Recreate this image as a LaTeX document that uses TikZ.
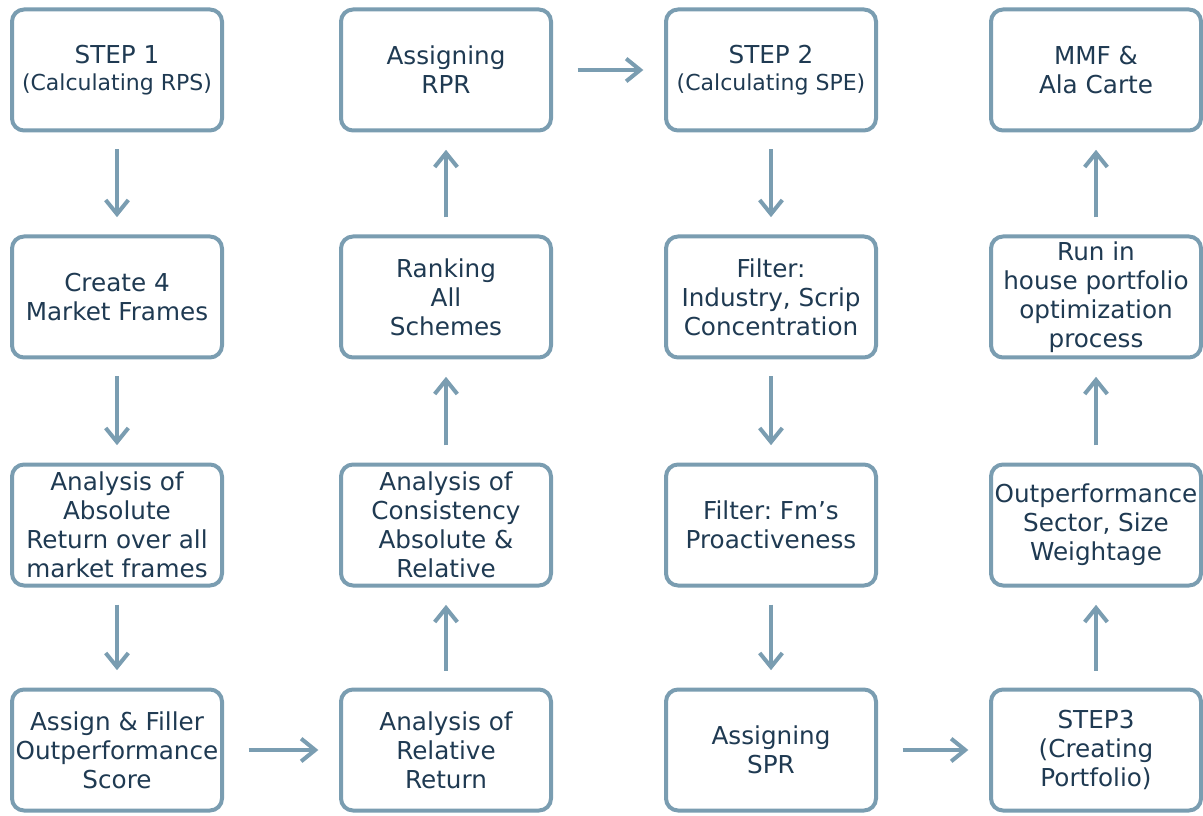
\documentclass[tikz,border=0pt]{standalone}
\usepackage{fontspec}
\setmainfont{DejaVu Sans}
\usetikzlibrary{arrows.meta}
\definecolor{frameblue}{HTML}{7A9DB1}
\definecolor{inkblue}{HTML}{1F3A52}
\frenchspacing

\begin{document}
\begin{tikzpicture}[x=0.75pt,y=-0.75pt,
		box/.style={draw=frameblue, line width=3pt, rounded corners=9pt, fill=white,
			minimum width=157.5pt, minimum height=90.75pt, inner sep=0pt,
			align=center, text=inkblue, font=\fontsize{18.5}{21.75}\selectfont},
		arr/.style={draw=frameblue, line width=3pt, -{Straight Barb[length=10.5pt,width=17pt]}},
		varr/.style={arr, shorten <=12.75pt, shorten >=13pt},
		harr/.style={arr, shorten <=18.5pt, shorten >=15.5pt}]
		\useasboundingbox (0,0) rectangle (1203,816);
		% column 1
		\node[box] (rps) at (117,70) {STEP 1\\[-1.5pt]{\fontsize{16.5}{18}\selectfont(Calculating RPS)}};
		\node[box] (frames) at (117,297) {Create 4\\Market Frames};
		\node[box] (absret) at (117,525) {Analysis of\\Absolute\\Return over all\\market frames};
		\node[box] (score) at (117,750) {Assign \& Filler\\Outperformance\\Score};
		% column 2
		\node[box] (relret) at (446,750) {Analysis of\\Relative\\Return};
		\node[box] (consist) at (446,525) {Analysis of\\Consistency\\Absolute \&\\Relative};
		\node[box] (ranking) at (446,297) {Ranking\\All\\Schemes};
		\node[box] (rpr) at (446,70) {Assigning\\RPR};
		% column 3
		\node[box] (spe) at (771,70) {STEP 2\\[-1.5pt]{\fontsize{16.5}{18}\selectfont(Calculating SPE)}};
		\node[box] (industry) at (771,297) {Filter:\\Industry, Scrip\\Concentration};
		\node[box] (fm) at (771,525) {Filter: Fm’s\\Proactiveness};
		\node[box] (spr) at (771,750) {Assigning\\SPR};
		% column 4
		\node[box] (portfolio) at (1096,750) {STEP3\\(Creating\\Portfolio)};
		\node[box] (weight) at (1096,525) {Outperformance\\Sector, Size\\Weightage};
		\node[box] (optim) at (1096,297) {Run in\\house portfolio\\optimization\\process};
		\node[box] (mmf) at (1096,70) {MMF \&\\Ala Carte};
		% arrows
		\draw[varr] (rps) -- (frames);
		\draw[varr] (frames) -- (absret);
		\draw[varr] (absret) -- (score);
		\draw[harr] (score) -- (relret);
		\draw[varr] (relret) -- (consist);
		\draw[varr] (consist) -- (ranking);
		\draw[varr] (ranking) -- (rpr);
		\draw[harr] (rpr) -- (spe);
		\draw[varr] (spe) -- (industry);
		\draw[varr] (industry) -- (fm);
		\draw[varr] (fm) -- (spr);
		\draw[harr] (spr) -- (portfolio);
		\draw[varr] (portfolio) -- (weight);
		\draw[varr] (weight) -- (optim);
		\draw[varr] (optim) -- (mmf);
\end{tikzpicture}
\end{document}
